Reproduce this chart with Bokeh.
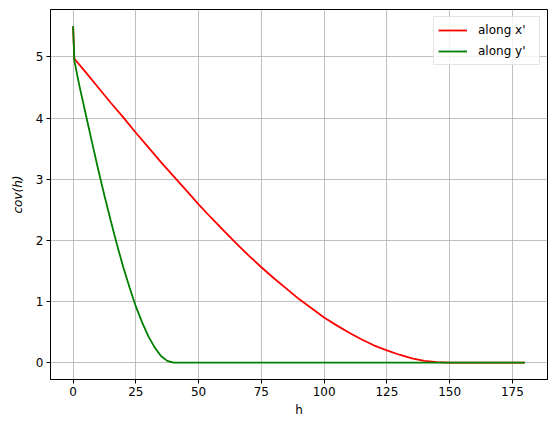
from bokeh.plotting import figure
from bokeh.models import Range1d, FixedTicker, Legend, LegendItem
from bokeh.embed import file_html
from bokeh.resources import INLINE

# data
h_x = [0, 0.5, 5, 10, 15, 20, 25, 30, 35, 40, 45, 50, 55, 60, 65, 70, 75, 80, 85,
       90, 95, 100, 105, 110, 115, 120, 125, 130, 135, 140, 145, 150, 180]
cov_x = [5.5, 4.97, 4.75, 4.50, 4.25, 4.01, 3.76, 3.52, 3.28, 3.05, 2.82, 2.59, 2.37,
         2.16, 1.95, 1.75, 1.56, 1.38, 1.21, 1.04, 0.89, 0.74, 0.61, 0.49, 0.38, 0.28,
         0.20, 0.13, 0.07, 0.03, 0.01, 0.0, 0.0]
h_y = [0, 0.5, 2.5, 5, 7.5, 10, 12.5, 15, 17.5, 20, 22.5, 25, 27.5, 30, 32.5, 35,
       37.5, 40, 180]
cov_y = [5.5, 4.94, 4.53, 4.07, 3.61, 3.16, 2.73, 2.32, 1.93, 1.56, 1.23, 0.92, 0.66,
         0.43, 0.25, 0.11, 0.03, 0.0, 0.0]
x_ticks = [0, 25, 50, 75, 100, 125, 150, 175]
y_ticks = [0, 1, 2, 3, 4, 5]
labels = ["along x'", "along y'"]

FONT = "DejaVu Sans"

p = figure(output_backend="svg", toolbar_location=None,
           frame_width=497, frame_height=370,
           min_border_left=50, min_border_top=9, min_border_right=9, min_border_bottom=53,
           x_range=Range1d(-9, 189), y_range=Range1d(-0.275, 5.775))

p.background_fill_color = "white"
p.border_fill_color = "white"
p.outline_line_color = "black"
p.outline_line_width = 1

r1 = p.line(h_x, cov_x, line_color="red", line_width=1.8)
r2 = p.line(h_y, cov_y, line_color="green", line_width=1.8)

for ax in (p.xaxis[0], p.yaxis[0]):
    ax.major_label_text_font = FONT
    ax.major_label_text_font_size = "12px"
    ax.major_label_text_color = "black"
    ax.axis_label_text_font = FONT
    ax.axis_label_text_font_size = "12px"
    ax.axis_label_text_color = "black"
    ax.axis_label_text_font_style = "normal"
    ax.major_tick_out = 4
    ax.major_tick_in = 0
    ax.minor_tick_out = 0
    ax.minor_tick_in = 0
    ax.major_tick_line_color = "black"
    ax.axis_line_color = "black"
    ax.major_label_standoff = 3

p.xaxis.ticker = FixedTicker(ticks=x_ticks)
p.yaxis.ticker = FixedTicker(ticks=y_ticks)
p.xaxis.axis_label = "h"
p.yaxis.axis_label = "cov(h)"
p.yaxis.axis_label_text_font_style = "italic"
p.xaxis.axis_label_standoff = 4
p.yaxis.axis_label_standoff = 8

p.grid.grid_line_color = "#b0b0b0"
p.grid.grid_line_width = 0.8

legend = Legend(items=[LegendItem(label=labels[0], renderers=[r1]),
                       LegendItem(label=labels[1], renderers=[r2])],
                location="top_right")
legend.label_text_font = FONT
legend.label_text_font_size = "12px"
legend.label_text_color = "black"
legend.glyph_width = 29
legend.glyph_height = 18
legend.label_height = 18
legend.label_width = 57
legend.label_standoff = 11
legend.spacing = 3
legend.padding = 4
legend.margin = 7
legend.border_line_color = "#cccccc"
legend.border_line_width = 1
legend.background_fill_alpha = 0.8
p.add_layout(legend, "center")

open("out.html", "w").write(file_html(p, INLINE))
